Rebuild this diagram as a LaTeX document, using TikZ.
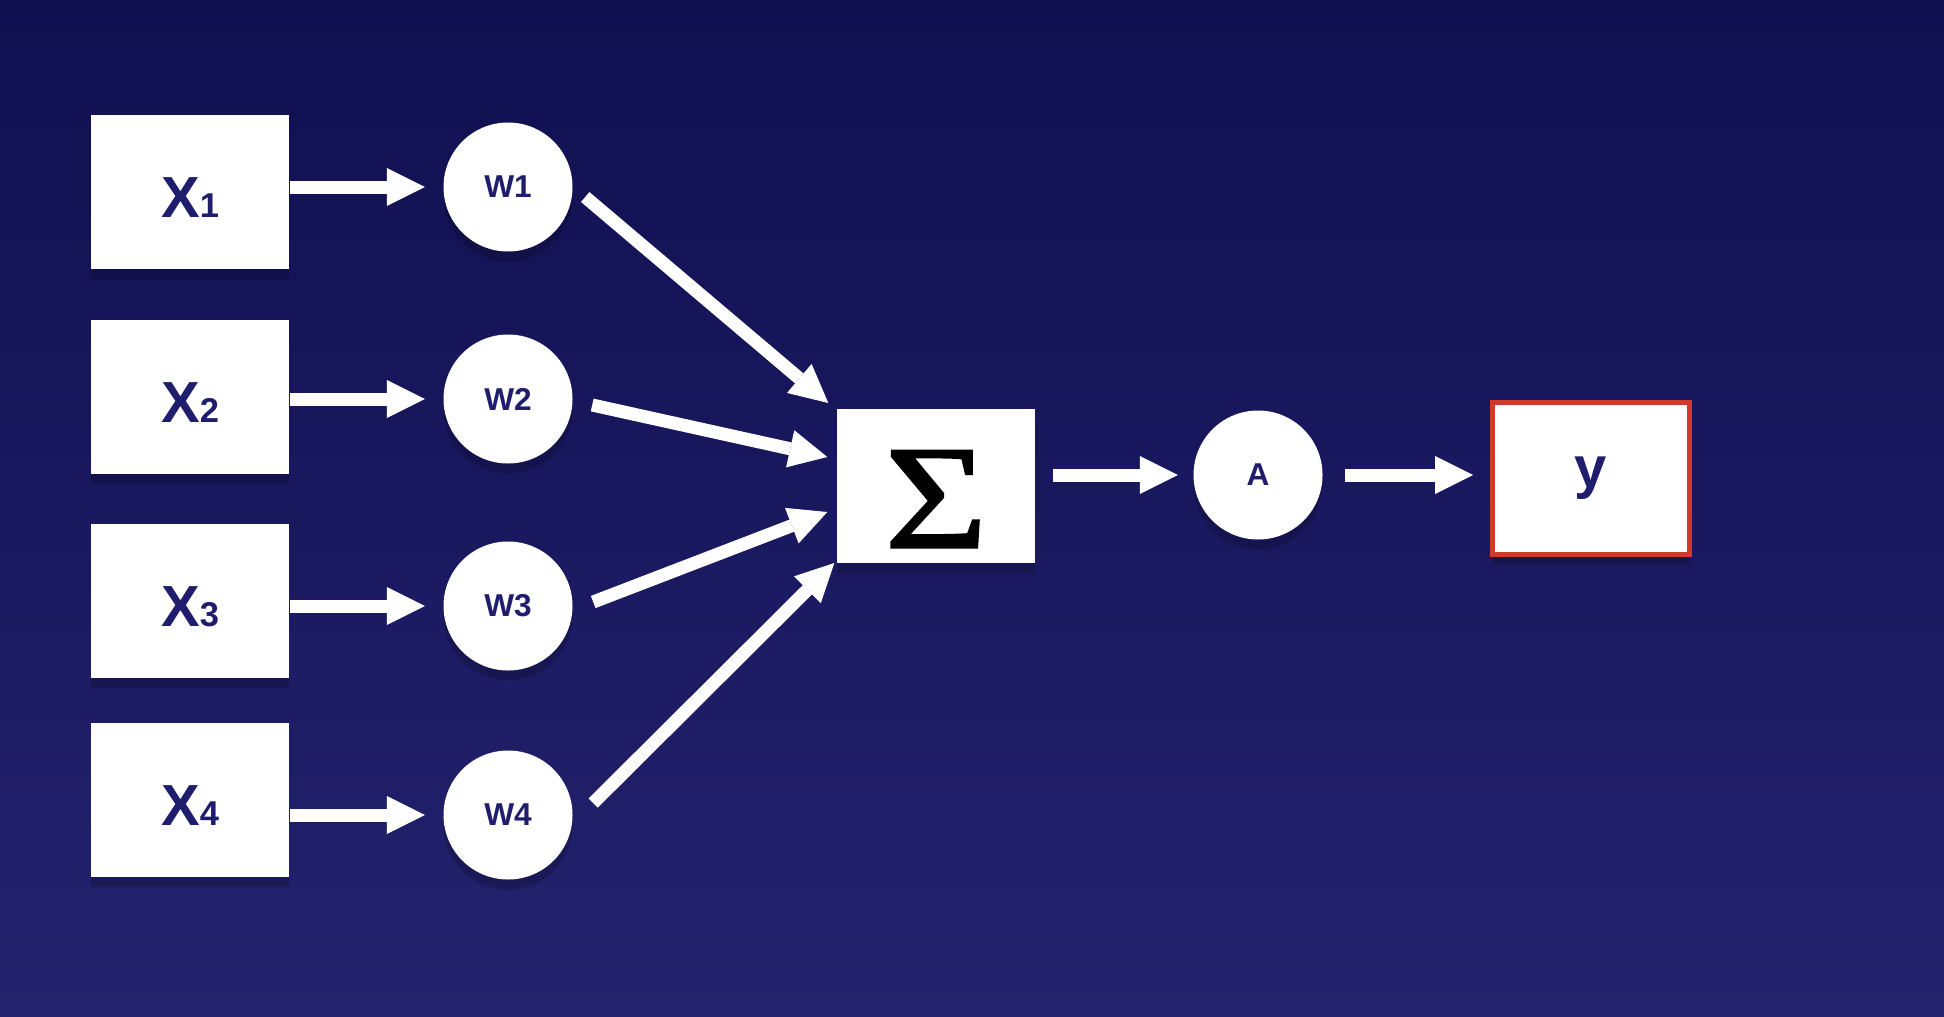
\documentclass[tikz,border=0pt]{standalone}
\usepackage{fontspec}
\setmainfont{Liberation Sans}
\newfontfamily\sumfont[FakeBold=1.5,FakeStretch=1.2]{Liberation Serif}
\usepackage{tikz}
\usetikzlibrary{arrows.meta}
\usetikzlibrary{shadows}
\usetikzlibrary{calc}
\definecolor{bgtop}{RGB}{16,15,80}
\definecolor{bgbot}{RGB}{35,34,110}
\definecolor{navy}{RGB}{32,30,108}
\definecolor{outred}{RGB}{208,58,42}
\newcommand{\xsub}[1]{{\fontsize{9.8}{10}\selectfont #1}}
\tikzstyle{softshadow}=[drop shadow={shadow xshift=0cm,shadow yshift=-0.1cm,opacity=0.18,fill=black}]
\tikzstyle{inbox}=[fill=white,softshadow,minimum width=1.98cm,minimum height=1.54cm,inner sep=0pt,text=navy,font=\fontsize{16.5}{18}\selectfont\bfseries]
\tikzstyle{wcirc}=[circle,fill=white,softshadow,minimum size=1.29cm,inner sep=0pt,text=navy,font=\fontsize{9}{10}\selectfont\bfseries]
\tikzstyle{arr}=[draw=white,line width=0.13cm,-{Triangle[length=0.38cm,width=0.38cm,line width=0pt,fill=white]}]

\begin{document}
\begin{tikzpicture}
\shade [top color=bgtop,bottom color=bgbot] (0,0) rectangle (19.44,-10.16);
\node [inbox,text height=0.5cm,text depth=0pt] (x1) at (1.90,-1.92) {X\xsub{1}};
\node [inbox,text height=0.5cm,text depth=0pt] (x2) at (1.90,-3.97) {X\xsub{2}};
\node [inbox,text height=0.5cm,text depth=0pt] (x3) at (1.90,-6.01) {X\xsub{3}};
\node [inbox,text height=0.5cm,text depth=0pt] (x4) at (1.90,-8.00) {X\xsub{4}};
\node [wcirc] (w1) at (5.08,-1.87) {W1};
\node [wcirc] (w2) at (5.08,-3.99) {W2};
\node [wcirc] (w3) at (5.08,-6.06) {W3};
\node [wcirc] (w4) at (5.08,-8.15) {W4};
\node [inbox,text=black,font=\sumfont\fontsize{42}{44}\selectfont,text height=1.23cm,text depth=0pt] (sum) at (9.36,-4.86) {Σ};
\node [wcirc] (act) at (12.58,-4.75) {A};
\node [inbox,draw=outred,line width=0.05cm,minimum width=1.97cm,minimum height=1.52cm] (out) at (15.91,-4.785) {y};
\draw [arr,shorten >=0.18cm] (x1.east |- w1) -- (w1);
\draw [arr,shorten >=0.18cm] (x2.east |- w2) -- (w2);
\draw [arr,shorten >=0.18cm] (x3.east |- w3) -- (w3);
\draw [arr,shorten >=0.18cm] (x4.east |- w4) -- (w4);
\draw [arr] ([shift={(0.12,-0.10)}]w1.east) -- ([shift={(-0.08,0.83)}]sum.west);
\draw [arr] ([shift={(0.19,-0.06)}]w2.east) -- ([shift={(-0.09,0.29)}]sum.west);
\draw [arr] ([shift={(0.20,0.04)}]w3.east) -- ([shift={(-0.09,-0.26)}]sum.west);
\draw [arr] ([shift={(0.20,0.12)}]w4.east) -- ([shift={(-0.02,-0.77)}]sum.west);
\draw [arr,shorten <=0.17cm,shorten >=0.15cm] (sum.east |- act) -- (act);
\draw [arr,shorten <=0.22cm,shorten >=0.17cm] (act) -- (out.west |- act);
\end{tikzpicture}
\end{document}
